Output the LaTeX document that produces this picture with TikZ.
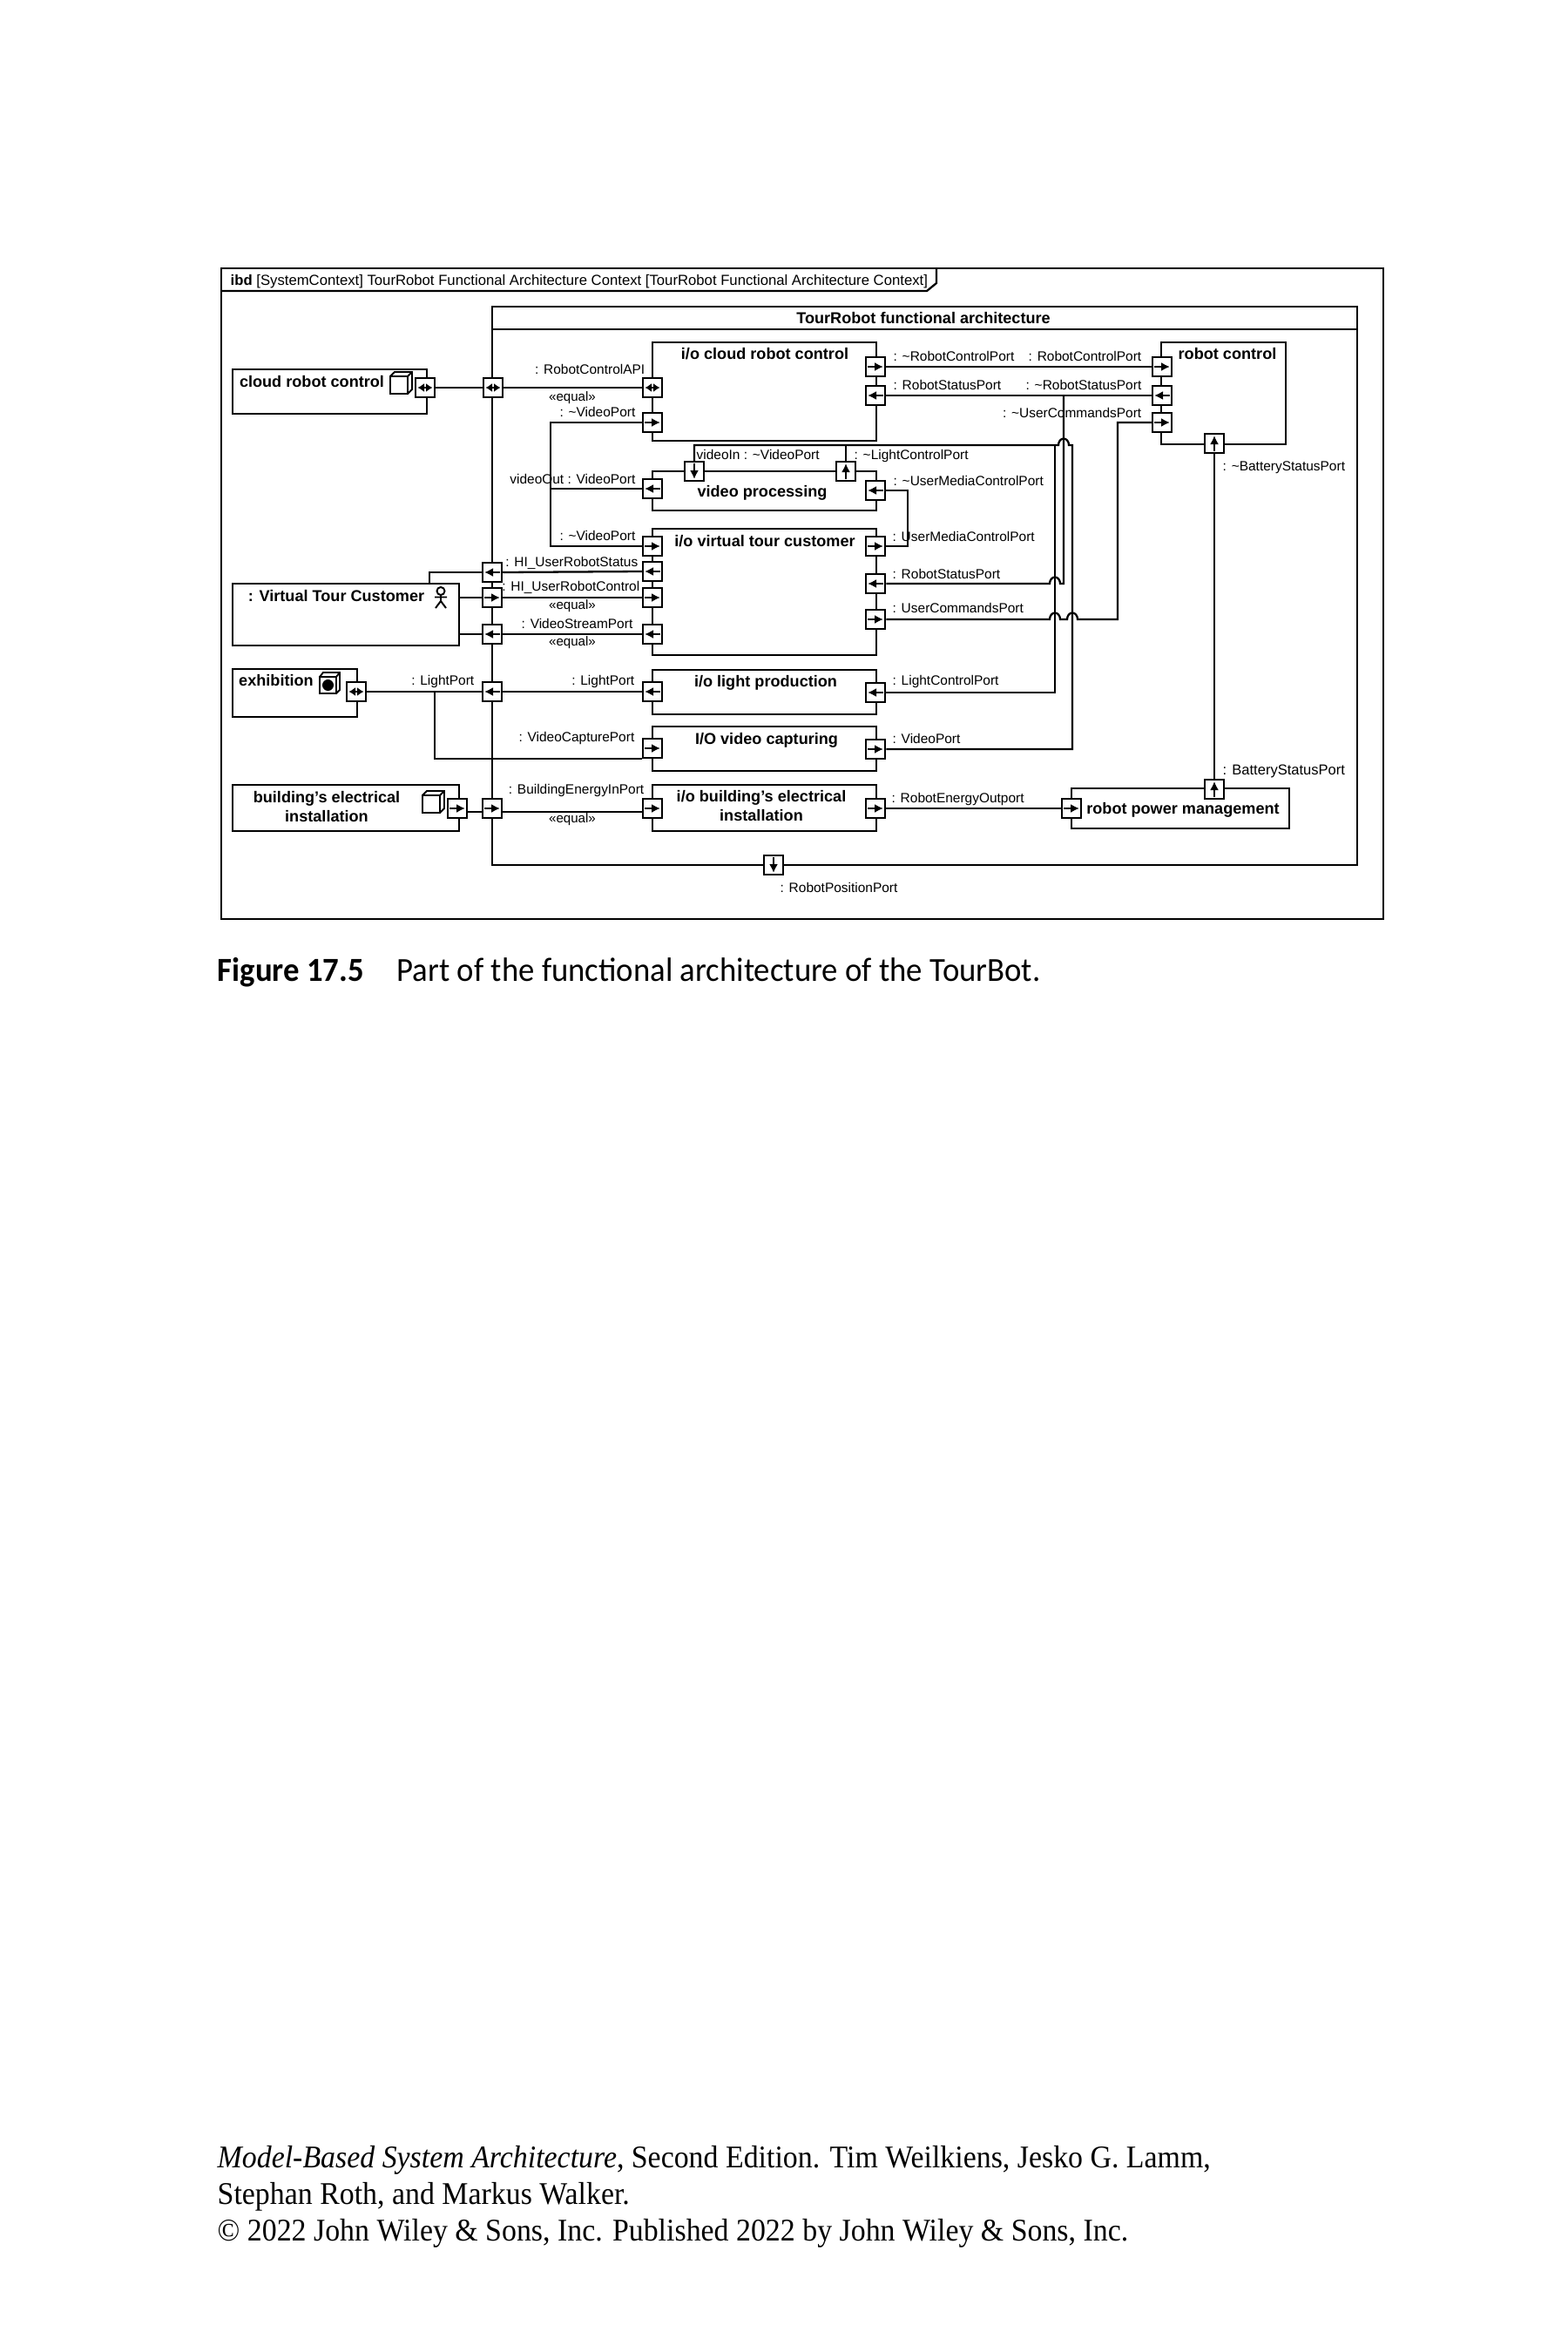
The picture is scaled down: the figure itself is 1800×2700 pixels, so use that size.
\documentclass[tikz,border=0pt]{standalone}
\usepackage{fontspec}
\usepackage{tikz}
\usetikzlibrary{arrows.meta,fit}
\setmainfont{Liberation Sans}
\newfontfamily\seriffoot{Liberation Serif}[FakeStretch=0.935]
\newfontfamily\capfont{Carlito}[FakeStretch=0.95]
\newcommand{\tld}{\textasciitilde}
\newcommand{\hop}{arc[start angle=180,end angle=0,x radius=0.06cm,y radius=0.075cm]}
\tikzset{
  wire/.style={line width=0.65pt},
  blockbox/.style={draw,line width=0.65pt,inner sep=0pt,fill=white},
  blocktxt/.style={font=\fontsize{5.15}{6.3}\selectfont\bfseries,align=center,inner sep=0pt},
  lblleft/.style={font=\fontsize{4.4}{5}\selectfont,anchor=mid west,inner sep=0pt},
  lblright/.style={font=\fontsize{4.4}{5}\selectfont,anchor=mid east,inner sep=0pt},
  eqtxt/.style={font=\fontsize{4.3}{5}\selectfont,inner sep=0pt},
  parrow/.style={line width=0.6pt,-{Latex[length=0.1cm,width=0.1cm]}},
  portbox/.style={draw,line width=0.7pt,fill=white,minimum size=0.22cm,inner sep=0pt},
  portr/.style={portbox,path picture={\draw[parrow] ([xshift=-0.09cm]path picture bounding box.center) -- ([xshift=0.09cm]path picture bounding box.center);}},
  portl/.style={portbox,path picture={\draw[parrow] ([xshift=0.09cm]path picture bounding box.center) -- ([xshift=-0.09cm]path picture bounding box.center);}},
  portu/.style={portbox,path picture={\draw[parrow] ([yshift=-0.09cm]path picture bounding box.center) -- ([yshift=0.09cm]path picture bounding box.center);}},
  portd/.style={portbox,path picture={\draw[parrow] ([yshift=0.09cm]path picture bounding box.center) -- ([yshift=-0.09cm]path picture bounding box.center);}},
  portb/.style={portbox,path picture={\draw[line width=0.4pt,{Latex[length=0.075cm,width=0.1cm]}-{Latex[length=0.075cm,width=0.1cm]}] ([xshift=-0.085cm]path picture bounding box.center) -- ([xshift=0.085cm]path picture bounding box.center);}},
  pics/cubeicon/.style={code={
    \draw[line width=0.55pt] (0,5) rectangle (20,25) (0,5) -- (5,0) -- (25,0) -- (25,20) -- (20,25) (20,5) -- (25,0);
  }},
  pics/exhicon/.style={code={
    \draw[line width=0.55pt] (0,5) rectangle (19,24) (0,5) -- (4,0) -- (23,0) -- (23,20) -- (19,24) (19,5) -- (23,0);
    \fill (9.5,14.5) circle (6.5);
  }},
  pics/actoricon/.style={code={
    \draw[line width=0.55pt] (0,4.5) circle (4.5) (0,9) -- (0,16) (-7,11.5) -- (7,11.5) (-6,24) -- (0,16) -- (6,24);
  }},
}

\begin{document}
\begin{tikzpicture}[x=0.01cm,y=-0.01cm]
  \useasboundingbox (0,0) rectangle (1800,2700);
  % outer frame with its tab
  \draw[wire] (254,308) rectangle (1588,1055);
  \draw[wire] (254,334) -- (1064,334) -- (1075,325) -- (1075,308);
  \node[font=\fontsize{4.75}{6}\selectfont,anchor=mid west,inner sep=0pt] (frametitle) at (264,318) {\textbf{ibd} [SystemContext] TourRobot Functional Architecture Context [TourRobot Functional Architecture Context]};
  % TourRobot functional architecture
  \draw[wire] (565,352) rectangle (1558,993);
  \draw[wire] (565,378) -- (1558,378);
  \node[font=\fontsize{5.15}{6}\selectfont\bfseries,inner sep=0pt] (toptitle) at (1060,365) {TourRobot functional architecture};

  \foreach \name/\xa/\ya/\xb/\yb in {
    bCloud/267/424/490/475, bCustomer/267/670/527/741, bExhibition/267/768/410/823, bBuilding/267/901/527/954,
    bIoCloud/749/393/1006/506, bVideoProc/749/541/1006/586, bIoCustomer/749/607/1006/752,
    bIoLight/749/769/1006/820, bIoCapture/749/834/1006/885, bIoBuilding/749/901/1006/954,
    bRobotCtl/1333/393/1476/510, bPower/1230/905/1480/951}{
    \node[blockbox,fit={(\xa,\ya) (\xb,\yb)}] (\name) {};
  }

  \foreach \name/\x/\y/\txt in {
    tCloud/358/438/{cloud robot control}, tCustomer/386/684/{: Virtual Tour Customer}, tExhibition/317/781/{exhibition},
    tBuilding/375/926/{building’s electrical\\installation},
    tIoCloud/878/406/{i/o cloud robot control}, tVideoProc/875/566/{video processing}, tIoCustomer/878/621/{i/o virtual tour customer},
    tIoLight/879/784/{i/o light production}, tIoCapture/880/850/{I/O video capturing}, tIoBuilding/874/925/{i/o building’s electrical\\installation},
    tRobotCtl/1409/406/{robot control}, tPower/1358/930/{robot power management}}{
    \node[blocktxt] (\name) at (\x,\y) {\txt};
  }
  \pic at (448,427) {cubeicon};
  \pic at (485,908) {cubeicon};
  \pic at (367,772) {exhicon};
  \pic at (506,674) {actoricon};

  \foreach \name/\x/\y/\kind in {
    pCloud/488/445/portb, pApiOut/566/445/portb, pApiIn/749/445/portb,
    pVidCloud/749/485/portr, pVidOut/749/561/portl, pVidCust/749/627/portr,
    pStatOut/565/657/portl, pStatIn/749/656/portl, pCtrlOut/565/686/portr, pCtrlIn/749/686/portr,
    pStreamOut/565/728/portl, pStreamIn/749/728/portl,
    pExh/409/794/portb, pLightOut/565/794/portl, pLightIn/749/794/portl, pCapIn/749/859/portr,
    pBldg/525/928/portr, pBldgOut/565/928/portr, pBldgIn/749/928/portr,
    pVidIn/797/541/portd, pLightCtl/971/541/portu,
    pCtlR/1005/421/portr, pStatR/1005/454/portl, pMediaOut/1005/563/portl, pMediaIn/1005/627/portr,
    pCustStat/1005/670/portl, pCmdR/1005/711/portr, pLightR/1005/795/portl, pVideoR/1005/860/portr,
    pEnergyR/1005/928/portr, pPowerIn/1230/928/portr, pBattR/1394/906/portu,
    pRcCtl/1334/421/portr, pRcStat/1334/454/portl, pRcCmd/1334/485/portr, pRcBatt/1394/509/portu,
    pPos/888/993/portd}{
    \node[\kind] (\name) at (\x,\y) {};
  }

  % connectors
  \draw[wire] (pCloud) -- (pApiOut) -- (pApiIn);
  \coordinate (jVid) at (632,561);
  \draw[wire] (pVidCloud.west) -| (jVid) |- (pVidCust.west);
  \draw[wire] (jVid) -- (pVidOut.west);
  \coordinate (jCust) at (493,670);
  \draw[wire] (jCust) |- (pStatOut.west);
  \draw[wire] (pStatOut.east) -- (pStatIn.west);
  \draw[wire] (bCustomer.east |- pCtrlOut) -- (pCtrlOut.west);
  \draw[wire] (pCtrlOut.east) -- (pCtrlIn.west);
  \draw[wire] (bCustomer.east |- pStreamOut) -- (pStreamOut.west);
  \draw[wire] (pStreamOut.east) -- (pStreamIn.west);
  \draw[wire] (pExh.east) -- (pLightOut.west);
  \draw[wire] (pLightOut.east) -- (pLightIn.west);
  \coordinate (jLight) at (499,794);
  \draw[wire] (jLight) |- (pCapIn.south west);
  \draw[wire] ([yshift=-0.04cm]pBldg.east) -- ([yshift=-0.04cm]pBldgOut.west);
  \draw[wire] ([yshift=-0.04cm]pBldgOut.east) -- ([yshift=-0.04cm]pBldgIn.west);
  \draw[wire] (pCtlR.east) -- (pRcCtl.west);
  \draw[wire] (pStatR.east) -- (pRcStat.west);
  \draw[wire] (pEnergyR.east) -- (pPowerIn.west);
  \draw[wire] (pRcBatt.south) -- (pBattR.north);
  \draw[wire] (pMediaOut.east) -- (1042,563) -- (1042,627) -- (pMediaIn.east);
  % the ones that hop over each other
  \draw[wire] (pLightCtl.north) |- (1211,511) -- (1211,795) -- (pLightR.east);
  \draw[wire] (pVidIn.north) |- (1215,511) \hop -- (1231,511) -- (1231,860) -- (pVideoR.east);
  \draw[wire] (1221,454) -- (1221,670) -- (1217,670) arc[start angle=0,end angle=180,x radius=0.06cm,y radius=0.075cm] -- (pCustStat.east);
  \draw[wire] (pCmdR.east) -- (1205,711) \hop -- (1225,711) \hop -- (1283,711) -- (1283,485) -- (pRcCmd.west);

  \foreach \name/\x/\y/\txt in {
    lApi/741/420/{: RobotControlAPI}, lVidA/730/469/{: \tld VideoPort}, lVidB/730/546/{videoOut : VideoPort},
    lVidC/730/611/{: \tld VideoPort}, lStat/733/641/{: HI\_UserRobotStatus}, lCtrl/735/669/{: HI\_UserRobotControl},
    lStream/727/712/{: VideoStreamPort}, lLightA/545/777/{: LightPort}, lLightB/729/777/{: LightPort},
    lCapture/729/842/{: VideoCapturePort}, lEnergy/740/902/{: BuildingEnergyInPort},
    lRcCtl/1311/405/{: RobotControlPort}, lRcStat/1311/438/{: \tld RobotStatusPort}, lRcCmd/1311/470/{: \tld UserCommandsPort}}{
    \node[lblright] (\name) at (\x,\y) {\txt};
  }
  \foreach \name/\x/\y/\txt in {
    lCtlR/1025/405/{: \tld RobotControlPort}, lStatR/1025/438/{: RobotStatusPort},
    lVidIn/799/518/{videoIn : \tld VideoPort}, lLightCtl/980/518/{: \tld LightControlPort},
    lMediaOut/1025/548/{: \tld UserMediaControlPort}, lMediaIn/1024/612/{: UserMediaControlPort},
    lCustStat/1024/655/{: RobotStatusPort}, lCmdR/1024/694/{: UserCommandsPort},
    lLightR/1024/777/{: LightControlPort}, lVideoR/1024/844/{: VideoPort}, lEnergyR/1023/912/{: RobotEnergyOutport},
    lBattTop/1403/531/{: \tld BatteryStatusPort}, lBattLow/1403/880/{\fontsize{4.7}{5}\selectfont: BatteryStatusPort}, lPos/895/1015/{: RobotPositionPort}}{
    \node[lblleft] (\name) at (\x,\y) {\txt};
  }
  \foreach \name/\y in {eqApi/457, eqCtrl/696, eqStream/738, eqBldg/941}{
    \node[eqtxt] (\name) at (657,\y) {«equal»};
  }

  % caption and imprint
  \node[font=\capfont\fontsize{11}{14}\selectfont\bfseries,anchor=mid west,inner sep=0pt] (capnum) at (249,1117) {Figure 17.5};
  \node[font=\capfont\fontsize{11}{14}\selectfont,anchor=mid west,inner sep=0pt] (captxt) at (455,1117) {Part of the functional architecture of the TourBot.};
  \node[font=\seriffoot\fontsize{10.3}{11.9}\selectfont,anchor=north west,inner sep=0pt,align=left] (imprint) at (249,2463) {\textit{Model-Based System Architecture}, Second Edition. Tim Weilkiens, Jesko G. Lamm,\\Stephan Roth, and Markus Walker.\\© 2022 John Wiley \& Sons, Inc. Published 2022 by John Wiley \& Sons, Inc.};
\end{tikzpicture}
\end{document}
